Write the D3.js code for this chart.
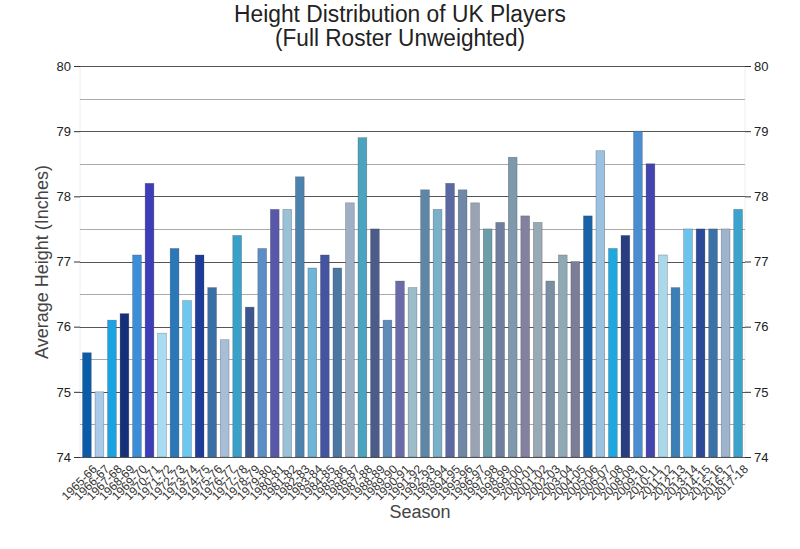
<!DOCTYPE html>
<html><head><meta charset="utf-8">
<script src="https://cdn.jsdelivr.net/npm/d3@7"></script>
<style>body{margin:0;background:#fff;} svg{display:block;font-family:"Liberation Sans",Arial,sans-serif;}</style>
</head><body><svg id="c" width="800" height="549"></svg>
<script>
const seasons = ["1965-66","1966-67","1967-68","1968-69","1969-70","1970-71","1971-72","1972-73","1973-74","1974-75","1975-76","1976-77","1977-78","1978-79","1979-80","1980-81","1981-82","1982-83","1983-84","1984-85","1985-86","1986-87","1987-88","1988-89","1989-90","1990-91","1991-92","1992-93","1993-94","1994-95","1995-96","1996-97","1997-98","1998-99","1999-00","2000-01","2001-02","2002-03","2003-04","2004-05","2005-06","2006-07","2007-08","2008-09","2009-10","2010-11","2011-12","2012-13","2013-14","2014-15","2015-16","2016-17","2017-18"];
const heights = [75.6,75.0,76.1,76.2,77.1,78.2,75.9,77.2,76.4,77.1,76.6,75.8,77.4,76.3,77.2,77.8,77.8,78.3,76.9,77.1,76.9,77.9,78.9,77.5,76.1,76.7,76.6,78.1,77.8,78.2,78.1,77.9,77.5,77.6,78.6,77.7,77.6,76.7,77.1,77.0,77.7,78.7,77.2,77.4,79.0,78.5,77.1,76.6,77.5,77.5,77.5,77.5,77.8];
const barColors = ["#0a5ca8","#a9cbea","#1aa3e0","#15307a","#3d8ed8","#3d3db8","#a8dcf2","#2a78b8","#6cc8f0","#1d3c98","#3a6fa6","#a8bed6","#3ba0c8","#3d558e","#5b8ec6","#5858a8","#9ac2d6","#4d82ac","#6eb4d6","#4454a0","#4a78a2","#9fb0c4","#4ba4be","#4c5c88","#5e8cb8","#6a6aa8","#9bbcc8","#5e86a6","#7ab0c8","#5a6aa0","#6e88a6","#98a4b4","#6a9ea8","#6e7e9c","#7e98ac","#8480a0","#98aab4","#7a8ea4","#8ea8b4","#7c7e98","#1a62a8","#9ac2e0","#1ea8e0","#283e80","#4a8ed0","#4444b0","#a8d8ea","#3a80b8","#6cc4ec","#2c4898","#3a72a8","#9eb4cc","#3ca4cc"];
const yTicks = [74,75,76,77,78,79,80];
const yMinor = [74.5,75.5,76.5,77.5,78.5,79.5];
const titleLines = ["Height Distribution of UK Players","(Full Roster Unweighted)"];
const xTitle = "Season", yTitle = "Average Height (Inches)";

const svg = d3.select("#c");
const L=80,R=745,T=66,B=457;
const x = d3.scaleBand().domain(seasons).range([L,R]).paddingInner(0.3).paddingOuter(0.2);
const y = d3.scaleLinear().domain([74,80]).range([B,T]);

svg.append("line").attr("x1",L).attr("x2",L).attr("y1",T).attr("y2",B).attr("stroke","#eee");
svg.append("line").attr("x1",R).attr("x2",R).attr("y1",T).attr("y2",B).attr("stroke","#eee");

svg.append("g").selectAll("line").data(yMinor).join("line")
  .attr("x1",L).attr("x2",R).attr("y1",d=>Math.round(y(d))+0.5).attr("y2",d=>Math.round(y(d))+0.5)
  .attr("stroke","#aaa").attr("stroke-width",1);
svg.append("g").selectAll("line").data(yTicks).join("line")
  .attr("x1",L).attr("x2",R).attr("y1",d=>Math.round(y(d))+0.5).attr("y2",d=>Math.round(y(d))+0.5)
  .attr("stroke","#555").attr("stroke-width",1);

svg.append("g").selectAll("rect").data(seasons).join("rect")
  .attr("x",d=>x(d)).attr("width",x.bandwidth())
  .attr("y",(d,i)=>y(heights[i])).attr("height",(d,i)=>B-y(heights[i]))
  .attr("fill",(d,i)=>barColors[i]).attr("stroke","rgba(60,60,80,0.45)").attr("stroke-width",0.6);

const yl = svg.append("g").attr("transform",`translate(${L},0)`)
  .call(d3.axisLeft(y).tickValues(yTicks).tickSize(6).tickPadding(3).tickFormat(d3.format("d")));
const yr = svg.append("g").attr("transform",`translate(${R},0)`)
  .call(d3.axisRight(y).tickValues(yTicks).tickSize(6).tickPadding(3).tickFormat(d3.format("d")));
[yl,yr].forEach(g=>{g.select(".domain").remove();g.selectAll("line").attr("stroke","#333");
  g.selectAll("text").attr("font-size",13).attr("fill","#222").attr("font-family","Liberation Sans, Arial");});

const xa = svg.append("g").attr("transform",`translate(0,${B})`)
  .call(d3.axisBottom(x).tickSize(0).tickPadding(4));
xa.select(".domain").remove();
xa.selectAll("text").attr("font-size",12).attr("fill","#333").attr("font-family","Liberation Sans, Arial")
  .attr("text-anchor","end").attr("dy","0.35em")
  .attr("transform","translate(5,7) rotate(-45)");

svg.append("text").attr("x",400).attr("y",22).attr("text-anchor","middle")
  .attr("font-size",23).attr("fill","#222").attr("textLength",332).attr("lengthAdjust","spacingAndGlyphs").text(titleLines[0]);
svg.append("text").attr("x",400).attr("y",46).attr("text-anchor","middle")
  .attr("font-size",23).attr("fill","#222").attr("textLength",250).attr("lengthAdjust","spacingAndGlyphs").text(titleLines[1]);
svg.append("text").attr("x",420).attr("y",518).attr("text-anchor","middle")
  .attr("font-size",18).attr("fill","#444").text(xTitle);
svg.append("text").attr("transform","translate(48,262) rotate(-90)").attr("text-anchor","middle")
  .attr("font-size",18).attr("fill","#444").text(yTitle);
</script></body></html>
